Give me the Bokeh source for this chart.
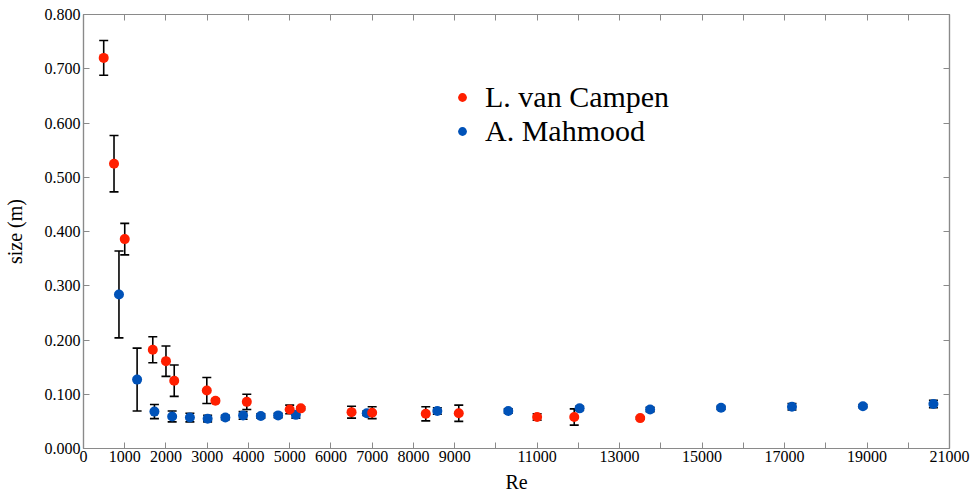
from bokeh.plotting import figure
from bokeh.models import (ColumnDataSource, Whisker, TeeHead, LinearAxis, FixedTicker,
                          NumeralTickFormatter, CustomJSTickFormatter, Legend, LegendItem)
from bokeh.embed import file_html
from bokeh.resources import INLINE

# L. van Campen measurements
re_campen = [490, 740, 1000, 1680, 2000, 2200, 2990, 3200, 3960, 5000, 5270,
             6500, 7000, 8300, 9100, 11000, 11900, 13500]
size_campen = [0.720, 0.525, 0.386, 0.182, 0.161, 0.125, 0.107, 0.088, 0.086, 0.072, 0.074,
               0.067, 0.066, 0.064, 0.065, 0.058, 0.058, 0.056]
err_campen = [0.032, 0.052, 0.029, 0.024, 0.028, 0.029, 0.024, 0.003, 0.014, 0.008, 0.003,
              0.011, 0.011, 0.013, 0.015, 0.006, 0.015, 0.002]

# A. Mahmood measurements
re_mahmood = [860, 1300, 1720, 2150, 2580, 3010, 3440, 3870, 4300, 4720, 5150,
              6870, 8580, 10300, 12030, 13740, 15460, 17180, 18900, 20610]
size_mahmood = [0.284, 0.127, 0.068, 0.059, 0.057, 0.055, 0.057, 0.061, 0.060, 0.061, 0.062,
                0.065, 0.069, 0.069, 0.074, 0.072, 0.075, 0.077, 0.078, 0.082]
err_mahmood = [0.080, 0.058, 0.013, 0.010, 0.008, 0.006, 0.004, 0.007, 0.004, 0.004, 0.006,
               0.004, 0.006, 0.004, 0.004, 0.004, 0.003, 0.006, 0.003, 0.007]

x_ticks = list(range(0, 21001, 1000))
x_hidden = list(range(10000, 20001, 2000))
y_ticks = [0.0, 0.1, 0.2, 0.3, 0.4, 0.5, 0.6, 0.7, 0.8]

RED = "#ff1f00"
BLUE = "#0052b8"
FRAME = "#8a8a8a"
SERIF = "Liberation Serif"


def make_source(x, y, e):
    return ColumnDataSource(dict(
        x=x, y=y,
        upper=[a + b for a, b in zip(y, e)],
        lower=[a - b for a, b in zip(y, e)],
    ))


src_c = make_source(re_campen, size_campen, err_campen)
src_m = make_source(re_mahmood, size_mahmood, err_mahmood)

p = figure(width=972, height=495, x_range=(0, 21000), y_range=(0, 0.8),
           output_backend="svg", toolbar_location=None,
           x_axis_label="Re", y_axis_label="size (m)",
           min_border_left=83, min_border_right=23, min_border_top=14, min_border_bottom=46)
p.grid.visible = False
p.outline_line_color = FRAME
p.outline_line_width = 1.2
p.background_fill_color = "white"

for src in (src_m, src_c):
    w = Whisker(source=src, base="x", upper="upper", lower="lower",
                line_color="black", line_width=1.6, level="underlay",
                upper_head=TeeHead(size=9, line_color="black", line_width=1.6),
                lower_head=TeeHead(size=9, line_color="black", line_width=1.6))
    p.add_layout(w)

r_m = p.scatter("x", "y", source=src_m, size=10, color=BLUE, line_color=None)
r_c = p.scatter("x", "y", source=src_c, size=10, color=RED, line_color=None)


def style_axis(ax):
    ax.axis_line_color = FRAME
    ax.axis_line_width = 1.2
    ax.major_tick_line_color = FRAME
    ax.major_tick_in = 6
    ax.major_tick_out = 0
    ax.minor_tick_line_color = None
    ax.major_label_text_font = SERIF
    ax.major_label_text_font_size = "16px"
    ax.major_label_text_color = "black"
    ax.axis_label_text_font = SERIF
    ax.axis_label_text_font_size = "20px"
    ax.axis_label_text_font_style = "normal"
    ax.axis_label_text_color = "black"


xa = p.xaxis[0]
xa.ticker = FixedTicker(ticks=x_ticks)
xa.major_label_overrides = {t: "" for t in x_hidden}
xa.major_label_standoff = 2
xa.axis_label_standoff = 6
style_axis(xa)

ya = p.yaxis[0]
ya.ticker = FixedTicker(ticks=y_ticks)
ya.formatter = NumeralTickFormatter(format="0.000")
ya.major_label_standoff = 3
ya.axis_label_standoff = 16
style_axis(ya)

# mirrored tick marks on the top and right edges, without labels
blank = CustomJSTickFormatter(code="return ''")
top = LinearAxis(ticker=FixedTicker(ticks=x_ticks), formatter=blank)
style_axis(top)
p.add_layout(top, "above")

right = LinearAxis(ticker=FixedTicker(ticks=y_ticks), formatter=blank)
style_axis(right)
p.add_layout(right, "right")

legend = Legend(items=[LegendItem(label="L. van Campen", renderers=[r_c]),
                       LegendItem(label="A. Mahmood", renderers=[r_m])],
                location=(368, 300), orientation="vertical",
                label_text_font=SERIF, label_text_font_size="30px",
                label_text_color="black", label_height=30,
                glyph_width=22, glyph_height=22, spacing=0, label_standoff=12,
                padding=4, border_line_color=None, background_fill_alpha=0)
p.add_layout(legend, "center")

open("out.html", "w").write(file_html(p, INLINE))
